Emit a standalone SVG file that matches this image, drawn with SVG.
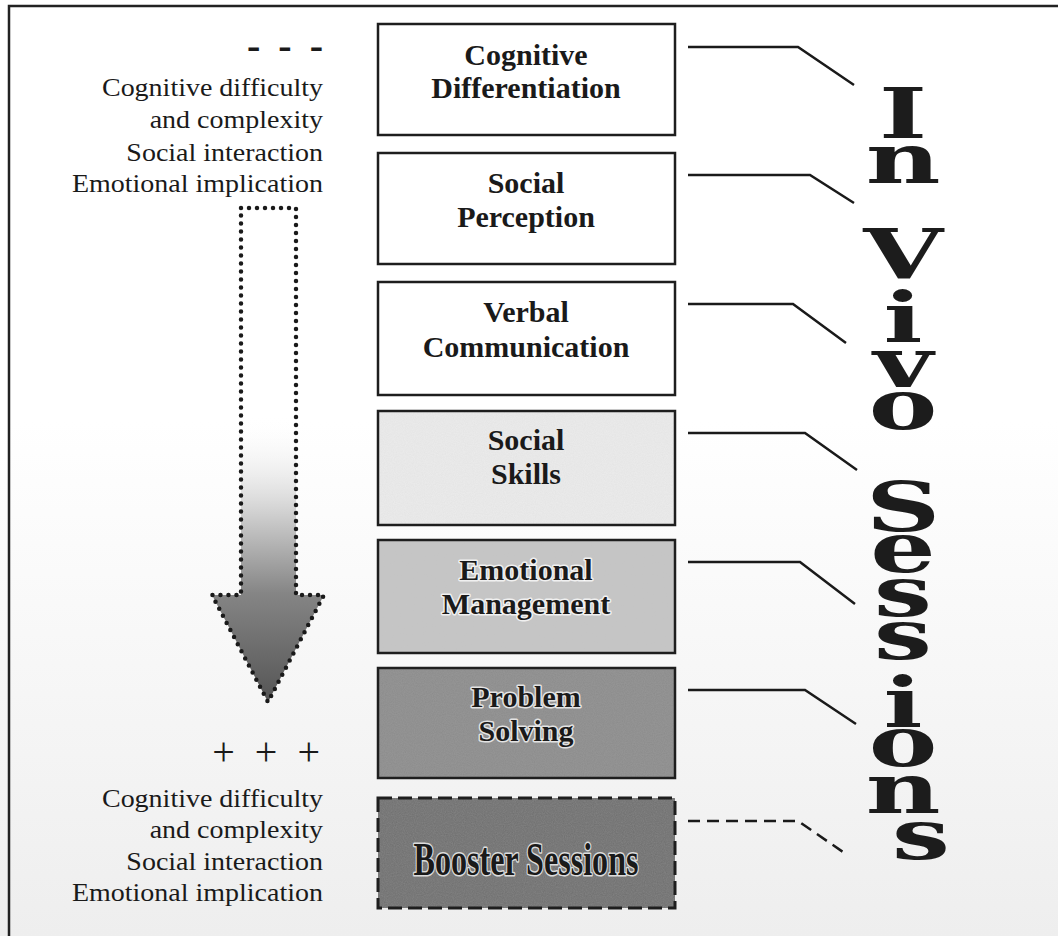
<svg xmlns="http://www.w3.org/2000/svg" width="1058" height="936" viewBox="0 0 1058 936">
  <style>
    .box { fill: none; stroke: #1e1e1e; stroke-width: 2.5; }
    .lbl { font-family: "Liberation Serif", "Times New Roman", serif; font-weight: bold; font-size: 30px; fill: #1a1a1a; text-anchor: middle; }
    .halo { stroke: #ffffff; stroke-width: 3px; stroke-opacity: 0.75; paint-order: stroke; stroke-linejoin: round; }
    .side { font-family: "Liberation Serif", "Times New Roman", serif; font-size: 25px; fill: #1a1a1a; text-anchor: end; }
    .mark { font-family: "Liberation Serif", "Times New Roman", serif; fill: #1a1a1a; text-anchor: end; }
    .conn { fill: none; stroke: #1a1a1a; stroke-width: 2.5; }
    .vivo { font-family: "DejaVu Serif", "Liberation Serif", serif; font-weight: bold; font-size: 70px; fill: #1c1c1c; text-anchor: middle; }
  </style>
  <defs>
    <linearGradient id="paper" x1="0" y1="0" x2="0" y2="1">
      <stop offset="0" stop-color="#ffffff"/>
      <stop offset="0.45" stop-color="#ffffff"/>
      <stop offset="1" stop-color="#eeeeee"/>
    </linearGradient>
    <linearGradient id="arrowFill" gradientUnits="userSpaceOnUse" x1="0" y1="208" x2="0" y2="702">
      <stop offset="0" stop-color="#ffffff" stop-opacity="0"/>
      <stop offset="0.42" stop-color="#ffffff" stop-opacity="0"/>
      <stop offset="0.62" stop-color="#cfcfcf"/>
      <stop offset="0.78" stop-color="#858585"/>
      <stop offset="1" stop-color="#555555"/>
    </linearGradient>
    <filter id="grain" x="0" y="0" width="100%" height="100%">
      <feTurbulence type="fractalNoise" baseFrequency="0.9" numOctaves="2" seed="3" result="n"/>
      <feColorMatrix in="n" type="matrix" values="0 0 0 0 0.5  0 0 0 0 0.5  0 0 0 0 0.5  0 0 0 0.2 0" result="g"/>
      <feComposite in="g" in2="SourceGraphic" operator="atop"/>
    </filter>
  </defs>

  <!-- page and frame -->
  <rect x="0" y="0" width="1058" height="936" fill="url(#paper)"/>
  <rect x="9" y="6" width="1100" height="1000" fill="none" stroke="#222" stroke-width="2.5"/>

  <!-- gradient scale on the left -->
  <g id="scale">
    <text class="mark" x="323" y="59" style="font-size:40px;font-weight:bold" word-spacing="8">- - -</text>
    <g transform="translate(323 0) scale(1.12 1)">
      <text class="side" x="0" y="96">Cognitive difficulty</text>
      <text class="side" x="0" y="128">and complexity</text>
      <text class="side" x="0" y="161">Social interaction</text>
      <text class="side" x="0" y="192">Emotional implication</text>
      <text class="side" x="0" y="807">Cognitive difficulty</text>
      <text class="side" x="0" y="838">and complexity</text>
      <text class="side" x="0" y="870">Social interaction</text>
      <text class="side" x="0" y="901">Emotional implication</text>
    </g>
    <text class="mark" x="320" y="765" style="font-size:40px" word-spacing="10">+ + +</text>
    <path id="arrow" d="M241 208 H296 V595 H324 L268 702 L212 595 H241 Z" fill="url(#arrowFill)" stroke="#1a1a1a" stroke-width="4.5" stroke-dasharray="0 8" stroke-linecap="round" stroke-linejoin="round"/>
  </g>

  <!-- training modules -->
  <g id="n1">
    <rect x="378" y="24" width="297" height="111" fill="#ffffff"/>
    <rect class="box" x="378" y="24" width="297" height="111"/>
    <text class="lbl" x="526" y="65">Cognitive</text>
    <text class="lbl" x="526" y="98">Differentiation</text>
  </g>
  <g id="n2">
    <rect x="378" y="153" width="297" height="111" fill="#ffffff"/>
    <rect class="box" x="378" y="153" width="297" height="111"/>
    <text class="lbl" x="526" y="193">Social</text>
    <text class="lbl" x="526" y="227">Perception</text>
  </g>
  <g id="n3">
    <rect x="378" y="282" width="297" height="113" fill="#ffffff"/>
    <rect class="box" x="378" y="282" width="297" height="113"/>
    <text class="lbl" x="526" y="322">Verbal</text>
    <text class="lbl" x="526" y="357">Communication</text>
  </g>
  <g id="n4">
    <rect x="378" y="411" width="297" height="114" fill="#ececec" filter="url(#grain)"/>
    <rect class="box" x="378" y="411" width="297" height="114"/>
    <text class="lbl" x="526" y="450">Social</text>
    <text class="lbl" x="526" y="484">Skills</text>
  </g>
  <g id="n5">
    <rect x="378" y="540" width="297" height="113" fill="#c6c6c6" filter="url(#grain)"/>
    <rect class="box" x="378" y="540" width="297" height="113"/>
    <text class="lbl halo" x="526" y="580">Emotional</text>
    <text class="lbl halo" x="526" y="614">Management</text>
  </g>
  <g id="n6">
    <rect x="378" y="668" width="297" height="110" fill="#8b8b8b" filter="url(#grain)"/>
    <rect class="box" x="378" y="668" width="297" height="110"/>
    <text class="lbl halo" x="526" y="707">Problem</text>
    <text class="lbl halo" x="526" y="741">Solving</text>
  </g>
  <g id="n7">
    <rect x="378" y="798" width="297" height="110" fill="#6e6e6e" filter="url(#grain)"/>
    <rect class="box" x="378" y="798" width="297" height="110" style="stroke-width:3" stroke-dasharray="14 6"/>
    <text class="lbl halo" x="526" y="875" style="font-size:46px" textLength="225" lengthAdjust="spacingAndGlyphs">Booster Sessions</text>
  </g>

  <!-- leaders to the in-vivo column -->
  <g id="connectors">
    <polyline class="conn" points="688,47 798,47 854,85"/>
    <polyline class="conn" points="688,175 810,175 854,203"/>
    <polyline class="conn" points="688,304 793,304 846,343"/>
    <polyline class="conn" points="688,433 805,433 857,470"/>
    <polyline class="conn" points="688,562 800,562 855,604"/>
    <polyline class="conn" points="688,690 805,690 856,724"/>
    <polyline class="conn" points="688,821 798,821 843,852" stroke-dasharray="12 7"/>
  </g>

  <!-- vertical title -->
  <g id="invivo" transform="translate(921 0) scale(1.47 1)">
    <text class="vivo">
      <tspan x="0" y="138">I</tspan>
      <tspan x="0" y="183">n</tspan>
      <tspan x="0" y="278">V</tspan>
      <tspan x="0" y="342">i</tspan>
      <tspan x="0" y="387">v</tspan>
      <tspan x="0" y="429">o</tspan>
      <tspan x="0" y="531">S</tspan>
      <tspan x="0" y="572">e</tspan>
      <tspan x="0" y="616">s</tspan>
      <tspan x="0" y="659">s</tspan>
      <tspan x="0" y="727">i</tspan>
      <tspan x="0" y="766">o</tspan>
      <tspan x="0" y="813">n</tspan>
      <tspan x="0" y="859">s</tspan>
    </text>
  </g>
</svg>
